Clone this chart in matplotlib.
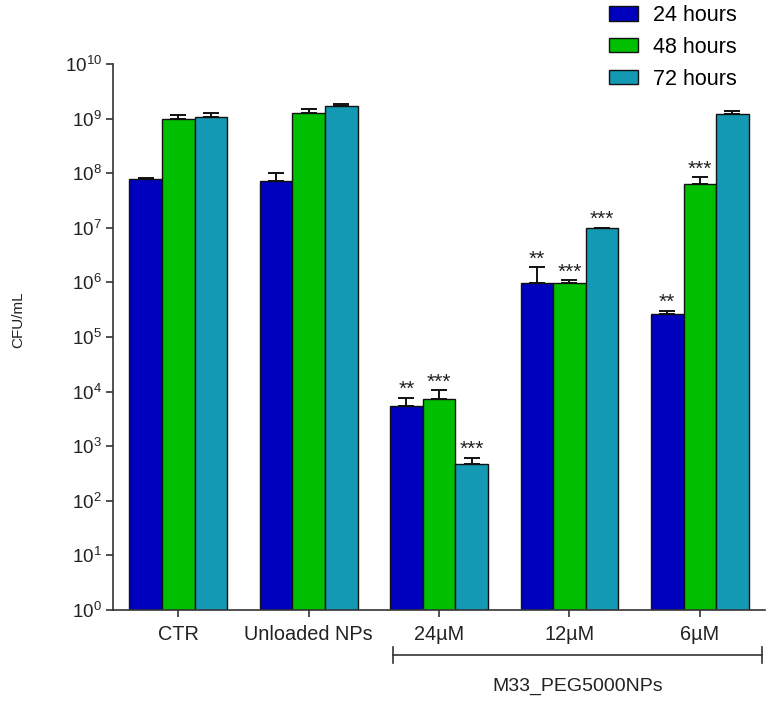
import numpy as np
import matplotlib
matplotlib.use("Agg")
import matplotlib.pyplot as plt
from matplotlib.patches import Patch

#
# Donnees
groups		= ["CTR", "Unloaded NPs", "24µM", "12µM", "6µM"]
series		= ["24 hours", "48 hours", "72 hours"]
h24			= [7.8e7, 7.3e7, 5.5e3, 9.6e5, 2.6e5]
h48			= [9.8e8, 1.25e9, 7.3e3, 9.8e5, 6.3e7]
h72			= [1.08e9, 1.73e9, 470, 1.0e7, 1.2e9]
h24_err		= [0.3e7, 2.9e7, 2.2e3, 9.4e5, 0.4e5]
h48_err		= [0.2e9, 0.23e9, 3.2e3, 1.2e5, 2.1e7]
h72_err		= [0.18e9, 0.12e9, 150, 0, 0.18e9]
h24_stars	= ["", "", "**", "**", "**"]
h48_stars	= ["", "", "***", "***", "***"]
h72_stars	= ["", "", "***", "***", ""]
bracket_label	= "M33_PEG5000NPs"
colors		= ["#0000bf", "#00bf00", "#1499b5"]

#
# main
def main():
	plt.rcParams['font.family'] = ['Liberation Sans', 'DejaVu Sans']
	fig = plt.figure(figsize=(7.7, 7.05), dpi=100)
	ax = fig.add_axes([113 / 770, 95 / 705, 652 / 770, 546 / 705])

	x		= np.arange(len(groups))
	width	= 0.25
	values	= [h24, h48, h72]
	errors	= [h24_err, h48_err, h72_err]
	stars	= [h24_stars, h48_stars, h72_stars]

	for i in range(3):
		pos = x + (i - 1) * width
		ax.bar(pos, values[i], width, color=colors[i], edgecolor="#111111",
			linewidth=1.0, label=series[i], zorder=2)
		err = np.array(errors[i])
		ax.errorbar(pos, values[i], yerr=[np.zeros_like(err), err], fmt="none",
			ecolor="#111111", elinewidth=1.4, capsize=6, capthick=1.4, zorder=1)
		# etoiles de significativite
		for j in range(len(groups)):
			if stars[i][j] == "":
				continue ;
			top = values[i][j] + errors[i][j]
			ax.annotate(stars[i][j], (pos[j], top), xytext=(0, 2),
				textcoords="offset points", ha="center", va="baseline",
				fontsize=15, color="#222222")

	ax.set_yscale("log")
	ax.set_ylim(1, 1e10)
	ax.set_xlim(-0.5, 4.5)
	ax.set_yticks([10.0 ** k for k in range(11)])
	ax.set_yticklabels([r"$\mathregular{10^{%d}}$" % k for k in range(11)], fontsize=13.5)
	ax.yaxis.set_minor_locator(matplotlib.ticker.NullLocator())
	ax.set_xticks(x)
	ax.set_xticklabels(groups, fontsize=14.3)
	ax.tick_params(axis="both", length=5, width=1.2, color="#333333", labelcolor="#222222")
	ax.tick_params(axis="x", pad=6)
	ax.tick_params(axis="y", pad=3)

	for side in ["top", "right"]:
		ax.spines[side].set_visible(False)
	for side in ["left", "bottom"]:
		ax.spines[side].set_linewidth(1.2)
		ax.spines[side].set_color("#333333")

	fig.text(18 / 770, 1 - 320 / 705, "CFU/mL", rotation=90, ha="center",
		va="center", fontsize=11, color="#222222")

	#
	# accolade sous les groupes M33
	trans = ax.get_xaxis_transform()
	x0, x1 = 1.65, 4.48
	yb = -45 / 546
	ax.plot([x0, x1], [yb, yb], transform=trans, color="#333333", lw=1.2, clip_on=False)
	for xe in [x0, x1]:
		ax.plot([xe, xe], [yb - 8 / 546, yb + 8 / 546], transform=trans,
			color="#333333", lw=1.2, clip_on=False)
	ax.text((x0 + x1) / 2, -76 / 546, bracket_label, transform=trans, ha="center",
		va="center", fontsize=14, color="#222222")

	handles = [Patch(facecolor=colors[i], edgecolor="#111111", label=series[i]) for i in range(3)]
	fig.legend(handles=handles, loc="upper left", bbox_to_anchor=(609 / 770, 1 - 5 / 705),
		frameon=False, fontsize=15.5, borderpad=0, borderaxespad=0, labelspacing=0.5,
		handlelength=1.35, handleheight=0.65, handletextpad=0.7)

	fig.savefig("out.png", dpi=100)

#
# Main guard
if __name__ == "__main__":
	main();
